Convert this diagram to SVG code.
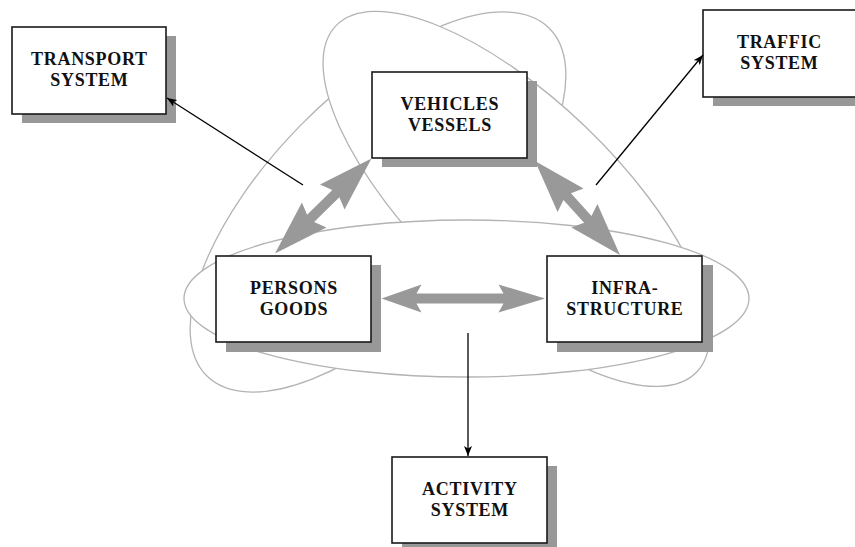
<svg xmlns="http://www.w3.org/2000/svg" width="855" height="547" viewBox="0 0 855 547">
<style>
.ring{fill:#fff;stroke:#b3b3b3;stroke-width:1.3}
.shadow{fill:#989898}
.box{fill:#fff;stroke:#1a1a1a;stroke-width:1.6}
.lbl{font-family:"Liberation Serif","Times New Roman",serif;font-weight:bold;font-size:18px;letter-spacing:0.7px;fill:#111;text-anchor:middle}
.fat{fill:#999999}
.thin{stroke:#000;stroke-width:1.3;fill:none}
</style>
<defs>
<marker id="ah" viewBox="0 0 10 8" refX="10" refY="4" markerWidth="10" markerHeight="8" orient="auto" markerUnits="userSpaceOnUse">
<path d="M0,0 L10,4 L0,8 L2.5,4 Z" fill="#000"/>
</marker>
</defs>
<g id="rings">
<ellipse class="ring" cx="0" cy="0" rx="244" ry="109" transform="translate(378 202) rotate(-45.5)"/>
<ellipse class="ring" cx="0" cy="0" rx="250" ry="100" transform="translate(516.3 198.9) rotate(43.8)"/>
<ellipse class="ring" cx="466.5" cy="298.5" rx="282.5" ry="78.5"/>
</g>
<g id="transport-system">
<rect class="shadow" x="22" y="36" width="154" height="87"/>
<rect class="box" x="12" y="27" width="154" height="87"/>
<text class="lbl" font-family="Liberation Serif, serif" x="89.4" y="65">TRANSPORT</text>
<text class="lbl" font-family="Liberation Serif, serif" x="89.4" y="86">SYSTEM</text>
</g>
<g id="traffic-system">
<rect class="shadow" x="713" y="19" width="155" height="87"/>
<rect class="box" x="703" y="10" width="155" height="87"/>
<text class="lbl" font-family="Liberation Serif, serif" x="779.4" y="48">TRAFFIC</text>
<text class="lbl" font-family="Liberation Serif, serif" x="779.4" y="69">SYSTEM</text>
</g>
<g id="vehicles-vessels">
<rect class="shadow" x="382" y="81" width="155" height="86"/>
<rect class="box" x="372" y="72" width="155" height="86"/>
<text class="lbl" font-family="Liberation Serif, serif" x="449.9" y="110">VEHICLES</text>
<text class="lbl" font-family="Liberation Serif, serif" x="449.9" y="131">VESSELS</text>
</g>
<g id="persons-goods">
<rect class="shadow" x="226" y="265" width="155" height="87"/>
<rect class="box" x="216" y="256" width="155" height="86"/>
<text class="lbl" font-family="Liberation Serif, serif" x="293.9" y="294">PERSONS</text>
<text class="lbl" font-family="Liberation Serif, serif" x="293.9" y="315">GOODS</text>
</g>
<g id="infrastructure">
<rect class="shadow" x="557" y="265" width="156" height="87"/>
<rect class="box" x="547" y="256" width="155" height="86"/>
<text class="lbl" font-family="Liberation Serif, serif" x="624.9" y="294">INFRA-</text>
<text class="lbl" font-family="Liberation Serif, serif" x="624.9" y="315">STRUCTURE</text>
</g>
<g id="activity-system">
<rect class="shadow" x="402" y="466" width="155" height="86"/>
<rect class="box" x="392" y="457" width="155" height="86"/>
<text class="lbl" font-family="Liberation Serif, serif" x="469.9" y="495">ACTIVITY</text>
<text class="lbl" font-family="Liberation Serif, serif" x="469.9" y="516">SYSTEM</text>
</g>
<g id="connectors">
<path class="fat" transform="translate(275 253.5) rotate(-44.56)" d="M0,0 L55,-17.5 L50,-5 L85.4,-5 L80.4,-17.5 L135.4,0 L80.4,17.5 L85.4,5 L50,5 L55,17.5 Z"/>
<path class="fat" transform="translate(535 161) rotate(47.88)" d="M0,0 L53,-17.5 L48,-5 L78.7,-5 L73.7,-17.5 L126.7,0 L73.7,17.5 L78.7,5 L48,5 L53,17.5 Z"/>
<path class="fat" d="M381.5,298.5 L421.5,284.5 L416.5,293.5 L503.5,293.5 L498.5,284.5 L545,298.5 L498.5,312.5 L503.5,303.5 L416.5,303.5 L421.5,312.5 Z"/>
<line class="thin" x1="303" y1="185" x2="167" y2="98" marker-end="url(#ah)"/>
<line class="thin" x1="596" y1="185" x2="703" y2="55" marker-end="url(#ah)"/>
<line class="thin" x1="468" y1="333" x2="468" y2="456" marker-end="url(#ah)"/>
</g>
</svg>
